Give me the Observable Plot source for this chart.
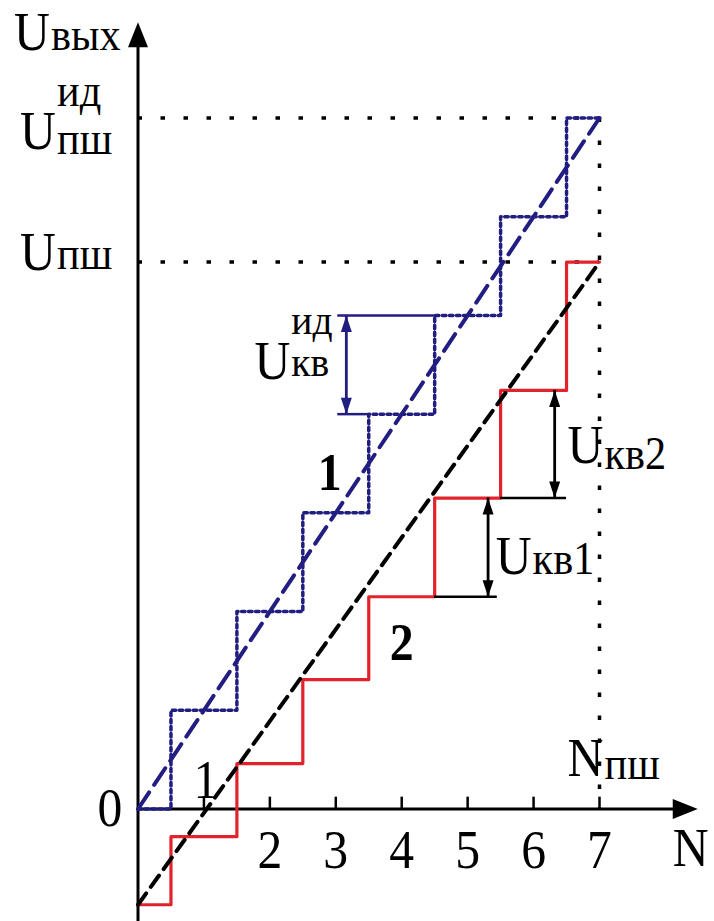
<!DOCTYPE html>
<html>
<head>
<meta charset="utf-8">
<script src="https://cdn.jsdelivr.net/npm/d3@7"></script>
<script src="https://cdn.jsdelivr.net/npm/@observablehq/plot@0.6"></script>
<style>
  html, body { margin: 0; padding: 0; background: #fff; }
  svg { display: block; }
</style>
</head>
<body>
<div id="chart"></div>
<script>
// Transition points of a mid-tread quantizer along the code axis N
const stepN = [0, 0.5, 1.5, 2.5, 3.5, 4.5, 5.5, 6.5, 7];
// Curve 1: ideal output levels (in units of the ideal quantum)
const idealLevels = [0, 1, 2, 3, 4, 5, 6, 7, 7];
// Curve 2: real output levels, with offset and non-uniform steps
const realLevels = [-0.97, -0.28, 0.46, 1.31, 2.15, 3.15, 4.24, 5.54, 5.54];

// Straight-line transfer characteristics through the step centres
const lineN = [0, 7];
const idealLine = [0, 7];
const realLine = [-0.97, 5.54];

// Axis ticks and full-scale values
const xTicks = [1, 2, 3, 4, 5, 6, 7];
const xTickLabels = ["1", "2", "3", "4", "5", "6", "7"];
const nFull = 7;          // N_пш
const uFullIdeal = 7;     // U_пш^ид
const uFull = 5.54;       // U_пш

// Axis extents (in data units)
const xAxisTip = 8.49;
const yAxisTip = 7.97;
const yAxisBottom = -1.2;
const tickLen = 0.12;

// Quantum dimension arrows: ideal, Uкв1, Uкв2
const quantumX = [3.16, 5.31, 6.32];
const quantumLo = [4, 2.15, 3.15];
const quantumHi = [5, 3.15, 4.24];
// Extension lines for the arrows
const idealGuideY = [5, 4];
const idealGuideX1 = [3.03, 3.03];
const idealGuideX2 = [4.5, 3.5];
const realGuideY = [2.15, 3.15];
const realGuideX1 = [4.5, 5.5];
const realGuideX2 = [5.45, 6.5];

const NAVY = "#221d80";
const RED = "#e3232c";
const BIG = 54, SUB = 46, BOLD = 52;

// Filled arrowheads; the tip sits at the dot position, pointing up before rotation
const headSymbol = {
  draw(context, size) {
    const r = Math.sqrt(size / Math.PI);
    context.moveTo(0, 0);
    context.lineTo(-r, 3 * r);
    context.lineTo(r, 3 * r);
    context.closePath();
  }
};
const axisHeadSymbol = {
  draw(context, size) {
    const r = Math.sqrt(size / Math.PI);
    context.moveTo(0, 0);
    context.lineTo(-r, 2.5 * r);
    context.lineTo(r, 2.5 * r);
    context.closePath();
  }
};

function label(x, y, text, o = {}) {
  return Plot.text([text], {
    x: () => x, y: () => y, text: d => d,
    textAnchor: o.anchor ?? "middle",
    lineAnchor: "bottom",
    dx: o.dx ?? 0, dy: o.dy ?? 0,
    fontSize: o.size ?? BIG,
    fontWeight: o.weight ?? "normal",
    fill: "black"
  });
}

const chart = Plot.plot({
  width: 714,
  height: 921,
  marginLeft: 137.5,
  marginRight: 115,
  marginTop: 117.5,
  marginBottom: 112.5,
  x: {domain: [0, 7], axis: null},
  y: {domain: [0, 7], axis: null},
  style: {
    fontFamily: '"Liberation Serif", "Times New Roman", serif',
    background: "white",
    overflow: "visible"
  },
  marks: [
    // full-scale reference lines
    Plot.ruleY([uFullIdeal, uFull], {x1: 0, x2: nFull, stroke: "black", strokeWidth: 3.5, strokeDasharray: "4.5,18.5"}),
    Plot.ruleX([nFull], {y1: uFullIdeal, y2: 0, stroke: "black", strokeWidth: 3.5, strokeDasharray: "4.5,18.5"}),

    // axes
    Plot.ruleX([0], {y1: yAxisBottom, y2: yAxisTip - 0.1, stroke: "black", strokeWidth: 3}),
    Plot.ruleY([0], {x1: 0, x2: xAxisTip - 0.2, stroke: "black", strokeWidth: 3}),
    Plot.ruleX(xTicks, {y1: 0, y2: tickLen, stroke: "black", strokeWidth: 2.5}),
    Plot.dot([0], {x: 0, y: yAxisTip, symbol: axisHeadSymbol, r: 10, fill: "black", stroke: "none", rotate: 0}),
    Plot.dot([0], {x: xAxisTip, y: 0, symbol: axisHeadSymbol, r: 10, fill: "black", stroke: "none", rotate: 90}),

    // staircase characteristics
    Plot.line(stepN, {x: stepN, y: idealLevels, curve: "step-after", stroke: NAVY, strokeWidth: 3.5, strokeDasharray: "3.5,3.5"}),
    Plot.line(stepN, {x: stepN, y: realLevels, curve: "step-after", stroke: RED, strokeWidth: 3.2}),

    // linear characteristics
    Plot.line(lineN, {x: lineN, y: idealLine, stroke: NAVY, strokeWidth: 4, strokeDasharray: "20,9"}),
    Plot.line(lineN, {x: lineN, y: realLine, stroke: "black", strokeWidth: 4, strokeDasharray: "14,8"}),

    // quantum extension lines
    Plot.ruleY(idealGuideY, {x1: idealGuideX1, x2: idealGuideX2, stroke: NAVY, strokeWidth: 2.5}),
    Plot.ruleY(realGuideY, {x1: realGuideX1, x2: realGuideX2, stroke: "black", strokeWidth: 2.5}),

    // quantum dimension arrows
    Plot.ruleX(quantumX.slice(0, 1), {y1: quantumLo.slice(0, 1), y2: quantumHi.slice(0, 1), stroke: NAVY, strokeWidth: 2.8}),
    Plot.dot(quantumX.slice(0, 1), {x: quantumX.slice(0, 1), y: quantumHi.slice(0, 1), symbol: headSymbol, r: 5.5, fill: NAVY, stroke: "none", rotate: 0}),
    Plot.dot(quantumX.slice(0, 1), {x: quantumX.slice(0, 1), y: quantumLo.slice(0, 1), symbol: headSymbol, r: 5.5, fill: NAVY, stroke: "none", rotate: 180}),
    Plot.ruleX(quantumX.slice(1), {y1: quantumLo.slice(1), y2: quantumHi.slice(1), stroke: "black", strokeWidth: 2.8}),
    Plot.dot(quantumX.slice(1), {x: quantumX.slice(1), y: quantumHi.slice(1), symbol: headSymbol, r: 5.5, fill: "black", stroke: "none", rotate: 0}),
    Plot.dot(quantumX.slice(1), {x: quantumX.slice(1), y: quantumLo.slice(1), symbol: headSymbol, r: 5.5, fill: "black", stroke: "none", rotate: 180}),

    // x tick labels ("1" sits above the axis)
    Plot.text(xTicks.slice(1), {x: xTicks.slice(1), y: 0, text: xTickLabels.slice(1), lineAnchor: "bottom", dy: 58.5, fontSize: BIG}),
    Plot.text(xTicks.slice(0, 1), {x: xTicks.slice(0, 1), y: 0, text: xTickLabels.slice(0, 1), lineAnchor: "bottom", dx: 2, dy: -11.5, fontSize: BIG}),
    label(0, 0, "0", {dx: -28, dy: 16.5}),
    label(xAxisTip, 0, "N", {dx: -7, dy: 57}),

    // N_пш
    label(nFull, 0, "N", {anchor: "end", dx: 4, dy: -33.5}),
    label(nFull, 0, "пш", {anchor: "start", dx: 5, dy: -30, size: SUB}),

    // U_вых
    label(0, yAxisTip, "U", {anchor: "end", dx: -88, dy: 28}),
    label(0, yAxisTip, "вых", {anchor: "start", dx: -87, dy: 28, size: SUB}),

    // U_пш^ид
    label(0, uFullIdeal, "U", {anchor: "end", dx: -82, dy: 30.5}),
    label(0, uFullIdeal, "ид", {anchor: "start", dx: -81, dy: -12.5, size: SUB}),
    label(0, uFullIdeal, "пш", {anchor: "start", dx: -81, dy: 36, size: SUB}),

    // U_пш
    label(0, uFull, "U", {anchor: "end", dx: -82, dy: 8}),
    label(0, uFull, "пш", {anchor: "start", dx: -81, dy: 7, size: SUB}),

    // curve numbers
    label(2.906, 3.227, "1", {size: BOLD, weight: "bold"}),
    label(4.0, 1.505, "2", {size: BOLD, weight: "bold"}),

    // U_кв^ид
    label(2.31, 4.36, "U", {anchor: "end"}),
    label(2.31, 4.36, "ид", {anchor: "start", dx: 1, dy: -45, size: 43}),
    label(2.31, 4.36, "кв", {anchor: "start", dx: 1, dy: -3, size: 43}),

    // U_кв1
    label(5.97, 2.385, "U", {anchor: "end"}),
    label(5.97, 2.385, "кв1", {anchor: "start", dx: 1, size: SUB}),

    // U_кв2
    label(7.06, 3.51, "U", {anchor: "end"}),
    label(7.06, 3.51, "кв2", {anchor: "start", dx: 1, dy: 6, size: SUB})
  ]
});

// Serif lettering is set slightly narrow
d3.select(chart).selectAll("text").each(function () {
  const t = this.getAttribute("transform") || "";
  this.setAttribute("transform", t + " scale(0.92,1)");
});

document.getElementById("chart").appendChild(chart);
</script>
</body>
</html>
